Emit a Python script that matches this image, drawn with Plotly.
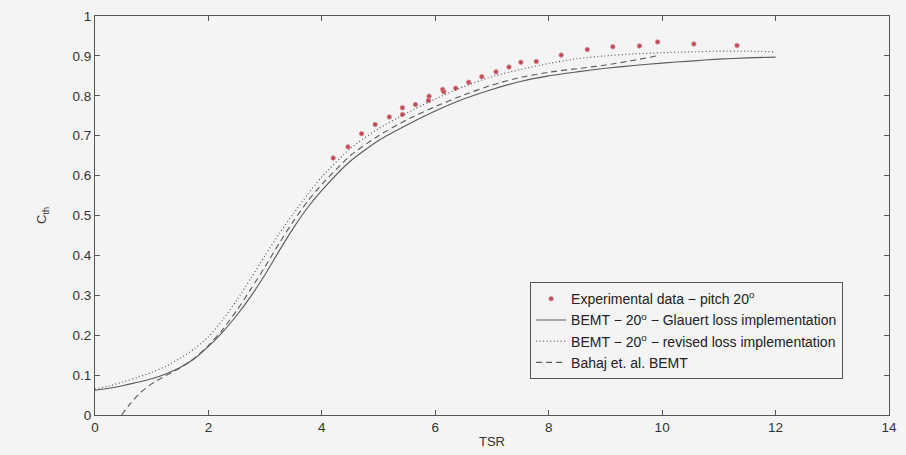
import plotly.graph_objects as go

# Experimental thrust coefficient, blade pitch 20 deg
exp_tsr = [4.20, 4.46, 4.70, 4.94, 5.19, 5.42, 5.42, 5.65, 5.88, 5.89, 6.13, 6.15,
           6.36, 6.59, 6.82, 7.07, 7.30, 7.51, 7.78, 8.22, 8.68, 9.13, 9.60, 9.92,
           10.56, 11.32]
exp_ct = [0.644, 0.672, 0.705, 0.728, 0.747, 0.770, 0.753, 0.778, 0.788, 0.799,
          0.816, 0.810, 0.819, 0.834, 0.848, 0.860, 0.872, 0.884, 0.886, 0.902,
          0.916, 0.923, 0.925, 0.935, 0.930, 0.926]

# BEMT with Glauert tip/hub loss
glauert_tsr = [0, 0.25, 0.5, 0.75, 1.0, 1.25, 1.5, 1.75, 2.0, 2.25, 2.5, 2.75,
               3.0, 3.25, 3.5, 3.75, 4.0, 4.5, 5.0, 5.5, 6.0, 6.5, 7.0, 7.5,
               8.0, 8.5, 9.0, 9.5, 10.0, 10.5, 11.0, 11.5, 12.0]
glauert_ct = [0.062, 0.067, 0.074, 0.082, 0.091, 0.103, 0.119, 0.141, 0.172,
              0.208, 0.250, 0.298, 0.352, 0.412, 0.469, 0.520, 0.563, 0.636,
              0.688, 0.727, 0.762, 0.792, 0.816, 0.836, 0.850, 0.860, 0.869,
              0.876, 0.882, 0.887, 0.892, 0.895, 0.897]

# BEMT with revised loss model
revised_tsr = glauert_tsr
revised_ct = [0.065, 0.073, 0.083, 0.094, 0.107, 0.122, 0.142, 0.166, 0.196,
              0.238, 0.288, 0.343, 0.400, 0.455, 0.505, 0.553, 0.597, 0.668,
              0.718, 0.757, 0.792, 0.823, 0.848, 0.866, 0.881, 0.893, 0.900,
              0.905, 0.908, 0.910, 0.912, 0.912, 0.910]

# Bahaj et al. BEMT
bahaj_tsr = [0.47, 0.6, 0.8, 1.0, 1.2, 1.5, 1.75, 2.0, 2.25, 2.5, 2.75, 3.0,
             3.25, 3.5, 3.75, 4.0, 4.5, 5.0, 5.5, 6.0, 6.5, 7.0, 7.5, 8.0,
             8.5, 9.0, 9.5, 9.9]
bahaj_ct = [0.0, 0.025, 0.056, 0.078, 0.095, 0.118, 0.142, 0.174, 0.214, 0.262,
            0.316, 0.372, 0.431, 0.486, 0.536, 0.578, 0.650, 0.700, 0.740,
            0.773, 0.802, 0.827, 0.846, 0.859, 0.868, 0.877, 0.889, 0.900]

x_ticks = [0, 2, 4, 6, 8, 10, 12, 14]
y_ticks = [0, 0.1, 0.2, 0.3, 0.4, 0.5, 0.6, 0.7, 0.8, 0.9, 1]
y_tick_text = ["0", "0.1", "0.2", "0.3", "0.4", "0.5", "0.6", "0.7", "0.8", "0.9", "1"]

line_col = "#5a5a5a"
bg = "#f4f4f4"
font = "Liberation Sans, Arial, sans-serif"

fig = go.Figure()
fig.add_trace(go.Scatter(
    x=exp_tsr, y=exp_ct, mode="markers",
    marker=dict(symbol="circle", size=4.5, color="#c24a57",
                line=dict(width=0.8, color="#d98690")),
    name="Experimental data − pitch 20<sup>o</sup>"))
fig.add_trace(go.Scatter(
    x=glauert_tsr, y=glauert_ct, mode="lines", line_shape="spline",
    line=dict(color=line_col, width=1.1, smoothing=0.6),
    name="BEMT − 20<sup>o</sup> − Glauert loss implementation"))
fig.add_trace(go.Scatter(
    x=revised_tsr, y=revised_ct, mode="lines", line_shape="spline",
    line=dict(color=line_col, width=1.2, dash="1px,2.5px", smoothing=0.6),
    name="BEMT − 20<sup>o</sup> − revised loss implementation"))
fig.add_trace(go.Scatter(
    x=bahaj_tsr, y=bahaj_ct, mode="lines", line_shape="spline",
    line=dict(color=line_col, width=1.1, dash="6px,4px", smoothing=0.6),
    name="Bahaj et. al. BEMT"))

axis_common = dict(
    showgrid=False, zeroline=False, showline=True, linecolor="#555",
    linewidth=1, mirror="ticks", ticks="inside", ticklen=5,
    tickcolor="#555", tickfont=dict(family=font, size=13.5, color="#333"),
)

fig.update_layout(
    width=906, height=455,
    margin=dict(l=95, r=9, t=13, b=38),
    paper_bgcolor=bg, plot_bgcolor=bg,
    font=dict(family=font, size=13, color="#222"),
    xaxis=dict(range=[0, 14], tickvals=x_ticks,
               title=dict(text="TSR", standoff=2,
                          font=dict(family=font, size=13, color="#333")),
               **axis_common),
    yaxis=dict(range=[0, 1], tickvals=y_ticks, ticktext=y_tick_text,
               title=dict(text="C<sub>th</sub>", standoff=22,
                          font=dict(family=font, size=13, color="#333")),
               **axis_common),
    legend=dict(x=0.548, y=0.333, xanchor="left", yanchor="top",
                bgcolor=bg, bordercolor="#555", borderwidth=1,
                font=dict(family=font, size=14, color="#222"),
                tracegroupgap=0, itemwidth=30),
    showlegend=True,
)

fig.write_html("out.html")
